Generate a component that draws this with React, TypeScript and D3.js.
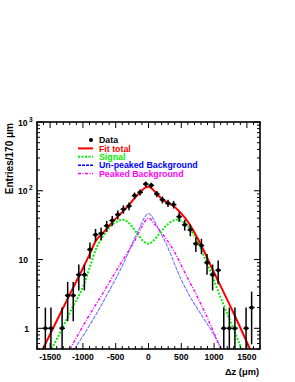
import React, { useEffect } from 'react'
import * as d3 from 'd3'

// bin centres (um) and counts, 85 um spacing
const binWidth = 85
const binStart = -1657.5
const counts = [
  0, 1, 1, 0, 1, 3, 3, 6, 6, 14,
  23, 24, 31, 37, 45, 54, 60, 85, 95, 125,
  120, 90, 74, 66, 63, 42, 32, 27, 17, 16,
  9, 6, 7, 1, 1, 1, 0, 1, 2, 0,
]

// curves: [dz, entries]
const fitTotal: [number, number][] = [
  [-1610, 0.5], [-1500, 0.82], [-1350, 1.6], [-1200, 3.1], [-1050, 6.0], [-900, 11.8],
  [-800, 19], [-700, 24], [-587, 32], [-470, 42], [-390, 50], [-300, 62], [-212, 78],
  [-127, 95], [-40, 112], [0, 114], [40, 110], [127, 90], [212, 75], [300, 66],
  [382, 60], [470, 50], [560, 40], [650, 30], [759, 19.5], [887, 11], [988, 6.8],
  [1090, 4.3], [1293, 1.7], [1547, 0.5],
]
const signal: [number, number][] = [
  [-1476, 0.5], [-1300, 1.07], [-1150, 2.1], [-994, 4.1], [-890, 8], [-790, 15],
  [-690, 22], [-587, 30], [-480, 35.5], [-400, 38], [-330, 36], [-250, 30], [-160, 23],
  [-80, 18.5], [0, 17], [80, 19], [170, 24], [270, 31], [370, 36.5], [430, 38],
  [530, 35], [607, 30], [680, 24], [759, 17.5], [840, 11.5], [912, 8], [1050, 3.7],
  [1192, 1.7], [1420, 0.5],
]
const unpeaked: [number, number][] = [
  [-1130, 0.5], [-900, 1.1], [-740, 2.0], [-600, 3.5], [-460, 6.2], [-354, 10],
  [-250, 17], [-150, 27], [-60, 41], [0, 47], [60, 41], [150, 28], [250, 18.5],
  [354, 11], [455, 6.3], [600, 3.3], [800, 1.6], [1000, 0.8], [1116, 0.5],
]
const peaked: [number, number][] = [
  [-1197, 0.5], [-950, 1.3], [-690, 3.3], [-450, 8], [-300, 13.5], [-206, 19],
  [-100, 30], [0, 40], [100, 32], [252, 21], [404, 12.5], [556, 6.4], [750, 2.8],
  [900, 1.4], [1100, 0.5],
]

const xMajor = [-1500, -1000, -500, 0, 500, 1000, 1500]
const yMajor = [1, 10, 100, 1000]

const legendItems = [
  { label: 'Data', color: '#000', kind: 'dot' },
  { label: 'Fit total', color: '#ff0000', kind: 'line', width: 2, dash: '' },
  { label: 'Signal', color: '#00ee00', kind: 'line', width: 2, dash: '2,1.5' },
  { label: 'Un-peaked Background', color: '#0000ff', kind: 'line', width: 1.5, dash: '3,1' },
  { label: 'Peaked Background', color: '#ff00ff', kind: 'line', width: 1.5, dash: '3,1.5,1,1.5' },
]

const font = '"Liberation Sans", Arial, Helvetica, sans-serif'

export default function App() {
  useEffect(() => {
    document.body.style.margin = '0'
  }, [])

  const W = 295
  const H = 382
  const left = 37
  const right = 260
  const top = 122
  const bottom = 349

  const x = d3.scaleLinear().domain([-1700, 1700]).range([left, right])
  const y = d3.scaleLog().domain([0.5, 1000]).range([bottom, top])

  const line = d3.line<[number, number]>()
    .x((d) => x(d[0]))
    .y((d) => y(d[1]))
    .curve(d3.curveMonotoneX)

  const xMinor = d3.range(-1700, 1701, 100).filter((v) => v % 500 !== 0)
  const yMinor: number[] = []
  ;[0.1, 1, 10, 100].forEach((dec) => {
    for (let k = 2; k <= 9; k++) {
      const v = k * dec
      if (v >= 0.5 && v < 1000) yMinor.push(v)
    }
  })

  const points = counts
    .map((n, i) => ({ c: binStart + i * binWidth, n }))
    .filter((d) => d.n > 0)

  return (
    <svg width={W} height={H} style={{ display: 'block', background: '#fff' }} fontFamily={font}>
      <defs>
        <clipPath id="frame">
          <rect x={left} y={top} width={right - left} height={bottom - top} />
        </clipPath>
      </defs>

      {/* curves */}
      <g clipPath="url(#frame)" fill="none">
        <path d={line(unpeaked) || ''} stroke="#7373ff" strokeWidth={1.1} strokeDasharray="4,1" />
        <path d={line(peaked) || ''} stroke="#ff00ff" strokeWidth={1.4} strokeDasharray="3,1.5,1,1.5" />
        <path d={line(signal) || ''} stroke="#00ee00" strokeWidth={2} strokeDasharray="2,1.5" />
        <path d={line(fitTotal) || ''} stroke="#ff0000" strokeWidth={2} />
      </g>

      {/* data with errors */}
      <g clipPath="url(#frame)" stroke="#000" strokeWidth={1.5}>
        {points.map((d, i) => {
          const e = Math.sqrt(d.n)
          const lo = Math.max(d.n - e, 0.3)
          return (
            <g key={i}>
              <line x1={x(d.c)} x2={x(d.c)} y1={y(lo)} y2={y(d.n + e)} />
              <line x1={x(d.c - binWidth / 2)} x2={x(d.c + binWidth / 2)} y1={y(d.n)} y2={y(d.n)} />
              <circle cx={x(d.c)} cy={y(d.n)} r={2} fill="#000" stroke="none" />
            </g>
          )
        })}
      </g>

      {/* frame & ticks */}
      <g stroke="#000" strokeWidth={1}>
        {xMajor.map((v) => (
          <g key={`xM${v}`}>
            <line x1={x(v)} x2={x(v)} y1={bottom} y2={bottom - 6} />
            <line x1={x(v)} x2={x(v)} y1={top} y2={top + 6} />
          </g>
        ))}
        {xMinor.map((v) => (
          <g key={`xm${v}`}>
            <line x1={x(v)} x2={x(v)} y1={bottom} y2={bottom - 3} />
            <line x1={x(v)} x2={x(v)} y1={top} y2={top + 3} />
          </g>
        ))}
        {yMajor.map((v) => (
          <g key={`yM${v}`}>
            <line x1={left} x2={left + 6} y1={y(v)} y2={y(v)} />
            <line x1={right} x2={right - 6} y1={y(v)} y2={y(v)} />
          </g>
        ))}
        {yMinor.map((v) => (
          <g key={`ym${v}`}>
            <line x1={left} x2={left + 3} y1={y(v)} y2={y(v)} />
            <line x1={right} x2={right - 3} y1={y(v)} y2={y(v)} />
          </g>
        ))}
        <rect x={left} y={top} width={right - left} height={bottom - top} fill="none" strokeWidth={1.6} />
      </g>

      {/* tick labels */}
      <g fontSize={8.6} fontWeight="bold" fill="#000">
        {xMajor.map((v) => (
          <text key={`xl${v}`} x={x(v)} y={360} textAnchor="middle">{v}</text>
        ))}
        <text x={29} y={332} textAnchor="end">1</text>
        <text x={28} y={263} textAnchor="end">10</text>
        {[100, 1000].map((v) => (
          <g key={`yl${v}`}>
            <text x={27.5} y={y(v) + 3.5} textAnchor="end">10</text>
            <text x={29} y={y(v) - 0.5} fontSize={6.5}>{Math.round(Math.log10(v))}</text>
          </g>
        ))}
      </g>

      {/* axis titles */}
      <text x={259} y={375} textAnchor="end" fontSize={9.3} fontWeight="bold">Δz (μm)</text>
      <text
        transform={`translate(13,${top + 1}) rotate(-90)`}
        textAnchor="end"
        fontSize={10}
        fontWeight="bold"
      >
        Entries/170 μm
      </text>

      {/* legend */}
      <g fontSize={8.8} fontWeight="bold">
        {legendItems.map((d, i) => {
          const cy = 140 + i * 8.4
          return (
            <g key={d.label}>
              {d.kind === 'dot'
                ? <circle cx={91} cy={cy} r={2} fill="#000" />
                : <line x1={78} x2={93} y1={cy} y2={cy} stroke={d.color} strokeWidth={d.width} strokeDasharray={d.dash} />}
              <text x={99} y={cy + 3.1} fill={d.color}>{d.label}</text>
            </g>
          )
        })}
      </g>
    </svg>
  )
}
